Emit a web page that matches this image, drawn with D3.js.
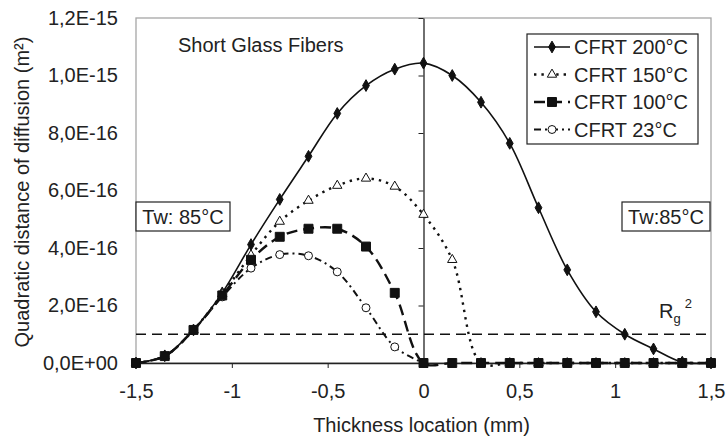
<!DOCTYPE html>
<html>
  <head>
    <meta charset="utf-8">
    <title>Quadratic distance of diffusion</title>
    <script src="https://d3js.org/d3.v7.min.js"></script>
    <style>
      body { margin: 0; background: #fff; }
      svg { font-family: "Liberation Sans", Arial, sans-serif; }
      text { fill: #222; }
      .tick text { font-size: 20px; fill: #222; }
    </style>
  </head>
  <body>
    <svg id="svg" width="727" height="436"></svg>
    <script>
      // data (values in units of 1e-16 m²)
      var xLocations = [-1.5, -1.35, -1.2, -1.05, -0.9, -0.75, -0.6, -0.45, -0.3, -0.15, 0,
                        0.15, 0.3, 0.45, 0.6, 0.75, 0.9, 1.05, 1.2, 1.35, 1.5];
      var cfrt200 = [0, 0.25, 1.15, 2.44, 4.12, 5.69, 7.19, 8.68, 9.65, 10.22, 10.43,
                     10.0, 9.07, 7.64, 5.4, 3.24, 1.78, 1.0, 0.49, 0.03, 0];
      var cfrt150 = [0, 0.24, 1.15, 2.4, 3.75, 4.92, 5.65, 6.17, 6.42, 6.14, 5.16,
                     3.59, 0, 0, 0, 0, 0, 0, 0, 0, 0];
      var cfrt100 = [0, 0.24, 1.15, 2.35, 3.59, 4.39, 4.67, 4.67, 4.05, 2.44, 0,
                     0, 0, 0, 0, 0, 0, 0, 0, 0, 0];
      var cfrt23 = [0, 0.24, 1.15, 2.3, 3.3, 3.77, 3.73, 3.17, 1.92, 0.56, 0];
      var seriesNames = ["CFRT 200°C", "CFRT 150°C", "CFRT 100°C", "CFRT 23°C"];
      var xTicks = [-1.5, -1, -0.5, 0, 0.5, 1, 1.5];
      var xTickLabels = ["-1,5", "-1", "-0,5", "0", "0,5", "1", "1,5"];
      var yTicks = [0, 2, 4, 6, 8, 10, 12];
      var yTickLabels = ["0,0E+00", "2,0E-16", "4,0E-16", "6,0E-16", "8,0E-16", "1,0E-15", "1,2E-15"];
      var rgLevel = 1;

      var svg = d3.select("#svg");
      var plotLeft = 136, plotRight = 711, plotTop = 18, plotBottom = 363;

      var x = d3.scaleLinear().domain([-1.5, 1.5]).range([plotLeft, plotRight]);
      var y = d3.scaleLinear().domain([0, 12]).range([plotBottom, plotTop]);

      // plot area border
      svg.append("rect")
        .attr("x", plotLeft).attr("y", plotTop)
        .attr("width", plotRight - plotLeft).attr("height", plotBottom - plotTop)
        .attr("fill", "none").attr("stroke", "#a6a6a6").attr("stroke-width", 1.3);

      // y tick labels on the left
      svg.append("g")
        .attr("transform", "translate(" + plotLeft + ",0)")
        .call(d3.axisLeft(y).tickValues(yTicks).tickSize(0).tickPadding(18)
          .tickFormat(function(d, i) { return yTickLabels[i]; }))
        .call(function(g) { g.select(".domain").remove(); });

      // vertical axis through zero
      svg.append("g")
        .attr("transform", "translate(" + x(0) + ",0)")
        .call(d3.axisLeft(y).tickValues(yTicks).tickSize(5).tickSizeOuter(0).tickFormat(""))
        .call(function(g) {
          g.select(".domain").attr("stroke", "#222").attr("stroke-width", 1.3);
          g.selectAll(".tick line").attr("stroke", "#222");
        });

      // x axis
      svg.append("g")
        .attr("transform", "translate(0," + plotBottom + ")")
        .call(d3.axisBottom(x).tickValues(xTicks).tickSize(5).tickSizeOuter(0).tickPadding(16)
          .tickFormat(function(d, i) { return xTickLabels[i]; }))
        .call(function(g) {
          g.select(".domain").attr("stroke", "#222").attr("stroke-width", 1.3);
          g.selectAll(".tick line").attr("stroke", "#222");
        });

      // axis titles
      svg.append("text")
        .attr("x", (plotLeft + plotRight) / 2 - 2).attr("y", 432)
        .attr("text-anchor", "middle").attr("font-size", 20)
        .text("Thickness location (mm)");
      svg.append("text")
        .attr("transform", "translate(29,192) rotate(-90)")
        .attr("text-anchor", "middle").attr("font-size", 20)
        .text("Quadratic distance of diffusion (m²)");

      // Rg² reference line
      svg.append("line")
        .attr("x1", plotLeft).attr("x2", plotRight)
        .attr("y1", y(rgLevel)).attr("y2", y(rgLevel))
        .attr("stroke", "#111").attr("stroke-width", 1.4).attr("stroke-dasharray", "10,6");
      var rg = svg.append("text").attr("x", 659).attr("y", 318).attr("font-size", 20);
      rg.append("tspan").text("R");
      rg.append("tspan").attr("font-size", 13).attr("dy", 5).text("g");
      rg.append("tspan").attr("font-size", 13).attr("dx", 4).attr("dy", -15).text("2");

      // series styles
      var styles = [
        { values: cfrt200, dash: null, width: 1.6, symbol: d3.symbolDiamond, size: 40, fill: "#111" },
        { values: cfrt150, dash: "2.4,5", width: 2.4, symbol: d3.symbolTriangle, size: 38, fill: "#fff" },
        { values: cfrt23, dash: "7,4,2,4", width: 2, symbol: d3.symbolCircle, size: 50, fill: "#fff" },
        { values: cfrt100, dash: "11,6", width: 2.4, symbol: d3.symbolSquare, size: 80, fill: "#111" }
      ];

      var line = d3.line()
        .x(function(d) { return x(d[0]); })
        .y(function(d) { return y(d[1]); })
        .curve(d3.curveCatmullRom.alpha(0.5));

      styles.forEach(function(s) {
        var pts = s.values.map(function(v, i) { return [xLocations[i], v]; });
        svg.append("path")
          .attr("d", line(pts))
          .attr("fill", "none").attr("stroke", "#111")
          .attr("stroke-width", s.width)
          .attr("stroke-dasharray", s.dash);
        svg.append("g").selectAll("path")
          .data(pts)
          .enter().append("path")
            .attr("transform", function(d) { return "translate(" + x(d[0]) + "," + y(d[1]) + ")"; })
            .attr("d", d3.symbol().type(s.symbol).size(s.size))
            .attr("fill", s.fill).attr("stroke", "#111").attr("stroke-width", 1);
      });

      // annotations
      svg.append("text").attr("x", 178).attr("y", 52).attr("font-size", 20).text("Short Glass Fibers");

      function labelBox(x0, y0, w, h, label) {
        svg.append("rect").attr("x", x0).attr("y", y0).attr("width", w).attr("height", h)
          .attr("fill", "#fff").attr("stroke", "#222").attr("stroke-width", 1.2);
        svg.append("text").attr("x", x0 + w / 2).attr("y", y0 + h / 2 + 7)
          .attr("text-anchor", "middle").attr("font-size", 20).text(label);
      }
      labelBox(136, 202, 94, 29, "Tw: 85°C");
      labelBox(622, 202, 88, 29, "Tw:85°C");

      // legend
      var legend = svg.append("g").attr("transform", "translate(527,34)");
      legend.append("rect").attr("width", 171).attr("height", 110)
        .attr("fill", "#fff").attr("stroke", "#222").attr("stroke-width", 1.2);
      var legendOrder = [styles[0], styles[1], styles[3], styles[2]];
      legendOrder.forEach(function(s, i) {
        var row = legend.append("g").attr("transform", "translate(0," + (13 + i * 27.5) + ")");
        row.append("line").attr("x1", 7).attr("x2", 43)
          .attr("stroke", "#111").attr("stroke-width", s.width)
          .attr("stroke-dasharray", s.dash);
        row.append("path").attr("transform", "translate(25,0)")
          .attr("d", d3.symbol().type(s.symbol).size(s.size))
          .attr("fill", s.fill).attr("stroke", "#111").attr("stroke-width", 1);
        row.append("text").attr("x", 47).attr("y", 7).attr("font-size", 20).text(seriesNames[i]);
      });
    </script>
  </body>
</html>
